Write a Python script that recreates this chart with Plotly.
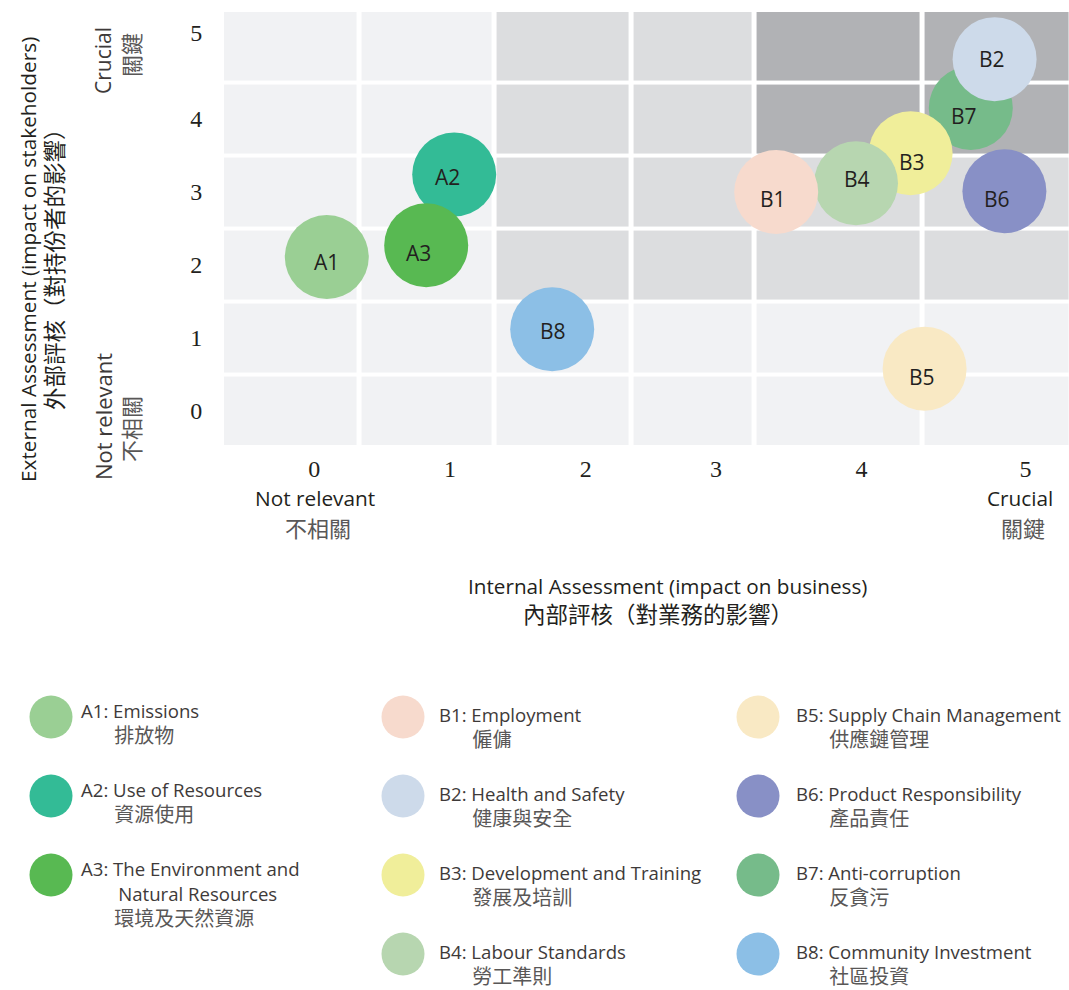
import plotly.graph_objects as go

W, H = 1069, 990

# ---------------- data ----------------
codes = ["A1", "A2", "A3", "B1", "B2", "B3", "B4", "B5", "B6", "B7", "B8"]
names_en = [
    "A1: Emissions",
    "A2: Use of Resources",
    "A3: The Environment and\nNatural Resources",
    "B1: Employment",
    "B2: Health and Safety",
    "B3: Development and Training",
    "B4: Labour Standards",
    "B5: Supply Chain Management",
    "B6: Product Responsibility",
    "B7: Anti-corruption",
    "B8: Community Investment",
]
names_zh = ["排放物", "資源使用", "環境及天然資源", "僱傭", "健康與安全", "發展及培訓",
            "勞工準則", "供應鏈管理", "產品責任", "反貪污", "社區投資"]
internal = [0.12, 1.03, 0.83, 3.33, 4.89, 4.29, 3.90, 4.39, 4.96, 4.72, 1.73]   # x: impact on business
external = [2.11, 3.24, 2.27, 3.00, 4.82, 3.53, 3.12, 0.58, 3.01, 4.15, 1.12]   # y: impact on stakeholders
colors = ["#9acf94", "#33bb96", "#58b952", "#f7dacd", "#cddaea", "#f0ee9a",
          "#b7d6b0", "#f9e9c4", "#8890c6", "#76bb8a", "#8cbfe6"]
draw_order = ["A1", "A2", "A3", "B8", "B5", "B6", "B7", "B2", "B3", "B4", "B1"]

tick_labels = ["0", "1", "2", "3", "4", "5"]
# shading level of each grid cell (rows bottom->top, columns left->right)
cell_level = [
    [0, 0, 0, 0, 0, 0],
    [0, 0, 0, 0, 0, 0],
    [0, 0, 1, 1, 1, 1],
    [0, 0, 1, 1, 1, 1],
    [0, 0, 1, 1, 2, 2],
    [0, 0, 1, 1, 2, 2],
]

# ---------------- layout / style helpers ----------------
col_edges = [-0.632, 0.354, 1.318, 2.3, 3.175, 4.375, 5.439]
row_edges = [-0.5, 0.5, 1.5, 2.5, 3.5, 4.5, 5.5]
x_tick_pos = [0.03, 1.0, 1.97, 2.9, 3.94, 5.11]
y_tick_pos = [0, 1, 2, 3, 4, 5.19]
# small pixel nudges of the code labels inside the bubbles (style only)
label_dx = [0, -7, -8, -3, -3, 1, 1, -3, -7, -7, 1]
label_dy = [-5, -3, -8, -7, 0, -9, 4, -8, -8, -8, -2]
FONT = "Open Sans, Noto Sans CJK TC, sans-serif"
ZH = "Noto Sans CJK TC, sans-serif"


def px(xp, yp):
    return xp / W, 1 - yp / H


fig = go.Figure()

fig.add_trace(go.Heatmap(
    x=col_edges, y=row_edges, z=cell_level, zmin=0, zmax=2,
    colorscale=[[0, "#f1f2f4"], [0.5, "#dcdddf"], [1, "#b1b2b5"]],
    xgap=5, ygap=4, showscale=False, hoverinfo="skip",
))

idx = [codes.index(c) for c in draw_order]
fig.add_trace(go.Scatter(
    x=[internal[i] for i in idx], y=[external[i] for i in idx],
    mode="markers",
    marker=dict(size=84, color=[colors[i] for i in idx], line=dict(width=0), opacity=1),
    cliponaxis=False, hoverinfo="skip", showlegend=False,
))

annotations = []
for i, c in enumerate(codes):
    annotations.append(dict(
        x=internal[i], y=external[i], xref="x", yref="y", text=c, showarrow=False,
        xanchor="center", yanchor="middle", xshift=label_dx[i], yshift=label_dy[i],
        font=dict(family=FONT, size=21, color="#231f20")))

# ---------------- custom legend ----------------
leg_mark_x = [51, 403, 758]
leg_text_x = [80, 438, 795]
leg_en_off = [-6, -2, -2]
row0, row_step = 717, 79
LINE = 25
EN_IND2 = "\u2003\u2003"            # indent for wrapped English line
ZH_IND = "\u2003\u2002\u2009"       # indent for Chinese line

lx, ly, lc = [], [], []
counters = [0, 0, 0]
for i, c in enumerate(codes):
    col = 0 if c.startswith("A") else (1 if int(c[1]) <= 4 else 2)
    row = counters[col]
    counters[col] += 1
    my = row0 + row * row_step
    lx.append(leg_mark_x[col]); ly.append(my); lc.append(colors[i])
    en_lines = names_en[i].split("\n")
    parts = []
    for k, ln in enumerate(en_lines):
        parts.append('<span style="font-size:18.6px">%s%s</span>' % (EN_IND2 if k > 0 else "", ln))
    parts.append('<span style="font-size:20px;color:#595757">%s%s</span>' % (ZH_IND, names_zh[i]))
    n = len(parts)
    first = my + leg_en_off[col]
    annotations.append(dict(
        x=leg_text_x[col], y=first + (n - 1) * LINE / 2, xref="x2", yref="y2",
        text="<br>".join(parts), showarrow=False, xanchor="left", yanchor="middle", align="left",
        borderpad=0, font=dict(family=FONT, size=LINE / 1.3, color="#3e3a39")))

fig.add_trace(go.Scatter(
    x=lx, y=ly, mode="markers", xaxis="x2", yaxis="y2",
    marker=dict(size=43, color=lc, line=dict(width=0)),
    hoverinfo="skip", showlegend=False,
))


def ann(text, xp, yp, size=20, color="#3e3a39", angle=0, family=FONT):
    x, y = px(xp, yp)
    annotations.append(dict(x=x, y=y, xref="paper", yref="paper", text=text,
                            showarrow=False, xanchor="center", yanchor="middle",
                            textangle=angle, font=dict(family=family, size=size, color=color)))


# axis titles
ann("Internal Assessment (impact on business)", 667, 586, 20.7, "#231f20")
ann("內部評核（對業務的影響）", 658, 613, 22.5, "#231f20", family=ZH)
ann("External Assessment (impact on stakeholders)", 28, 260, 20.8, "#231f20", -90)
ann("外部評核（對持份者的影響）", 53, 264, 22.5, "#231f20", -90, ZH)
# scale end labels
ann("Crucial", 103, 61, 21, "#3e3a39", -90)
ann("關鍵", 130, 55, 22, "#595757", -90, ZH)
ann("Not relevant", 103, 417, 22, "#3e3a39", -90)
ann("不相關", 130, 429, 22, "#595757", -90, ZH)
ann("Not relevant", 315, 498, 20.8, "#231f20")
ann("不相關", 318, 527, 22, "#595757", family=ZH)
ann("Crucial", 1020, 498, 20.8, "#231f20")
ann("關鍵", 1023, 527, 22, "#595757", family=ZH)

fig.update_layout(
    width=W, height=H, autosize=False,
    margin=dict(l=0, r=0, t=0, b=0),
    paper_bgcolor="white", plot_bgcolor="white",
    showlegend=False,
    xaxis=dict(domain=[224 / W, 1], range=[-0.6143, 5.4214], tickvals=x_tick_pos, ticktext=tick_labels,
               showgrid=False, zeroline=False, showline=False, ticks="outside", ticklen=2,
               tickcolor="rgba(0,0,0,0)", tickfont=dict(family="Liberation Serif", size=24, color="#231f20"),
               fixedrange=True, anchor="y"),
    yaxis=dict(domain=[1 - 445 / H, 1 - 12 / H], range=[-0.466, 5.466], tickvals=y_tick_pos, ticktext=tick_labels,
               showgrid=False, zeroline=False, showline=False, ticks="outside", ticklen=16,
               tickcolor="rgba(0,0,0,0)", tickfont=dict(family="Liberation Serif", size=24, color="#231f20"),
               fixedrange=True, anchor="x"),
    xaxis2=dict(domain=[0, 1], range=[0, W], visible=False, fixedrange=True, anchor="y2"),
    yaxis2=dict(domain=[0, 1 - 653 / H], range=[H, 653], visible=False, fixedrange=True, anchor="x2"),
    annotations=annotations,
)

fig.write_html("out.html", config={"displayModeBar": False},
               post_script="document.body.style.margin='0';document.body.style.overflow='hidden';")
